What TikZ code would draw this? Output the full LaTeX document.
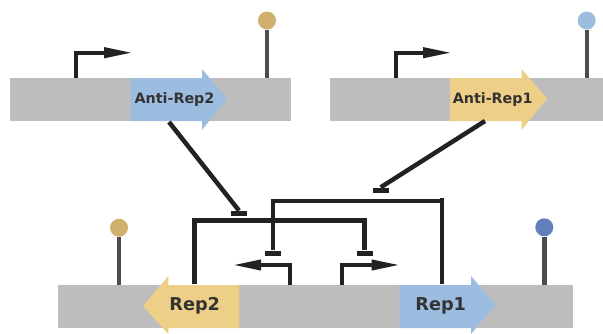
\documentclass[tikz,border=0pt]{standalone}
\usepackage{fontspec}
\setmainfont{DejaVu Sans}
\usetikzlibrary{arrows.meta}
\definecolor{barg}{HTML}{BDBDBD}
\definecolor{lblue}{HTML}{9DBDE0}
\definecolor{lyel}{HTML}{EDCF87}
\definecolor{ltan}{HTML}{CFB06F}
\definecolor{dblue}{HTML}{6180BB}
\definecolor{stemc}{HTML}{4D4D4D}
\definecolor{ink}{HTML}{222222}
\definecolor{txt}{HTML}{333333}
\tikzset{
  x=1pt,y=-1pt,
  barbox/.style={fill=barg,draw=none},
  stem/.style={draw=stemc,line width=4.4pt},
  capdot/.style={circle,draw=none,inner sep=0pt,minimum size=18pt},
  prom/.style={draw=ink,line width=3.9pt,line join=miter,-{Triangle[length=28.5pt,width=10pt]}},
  rep/.style={draw=ink,line width=4.5pt},
  tbar/.style={fill=ink,draw=none,inner sep=0pt,minimum width=16pt,minimum height=5pt},
  smalllabel/.style={font=\bfseries\fontsize{14.3}{16}\selectfont,text=txt,inner sep=0pt},
  biglabel/.style={font=\bfseries\fontsize{17.7}{20}\selectfont,text=txt,inner sep=0pt},
}
\begin{document}
\begin{tikzpicture}
\useasboundingbox (0,0) rectangle (603,333);
% DNA bars
\fill[barbox] (10,78) rectangle (291,121);
\fill[barbox] (330,78) rectangle (603,121);
\fill[barbox] (58,285) rectangle (573,328);
% genes
\fill[lblue] (130.5,78) -- (202,78) -- (202,69) -- (227,98.5) -- (202,130) -- (202,121) -- (130.5,121) -- cycle;
\fill[lyel] (450,78) -- (521.7,78) -- (521.7,69) -- (547,98.5) -- (521.7,130) -- (521.7,121) -- (450,121) -- cycle;
\fill[lyel] (239.3,285) -- (168.3,285) -- (168.3,276) -- (143,306) -- (168.3,334) -- (168.3,328) -- (239.3,328) -- cycle;
\fill[lblue] (399.3,285) -- (471,285) -- (471,276) -- (495.7,305) -- (471,334) -- (471,328) -- (399.3,328) -- cycle;
\node[smalllabel] (antirep2) at (174.5,100) {Anti-Rep2};
\node[smalllabel] (antirep1) at (492.7,100) {Anti-Rep1};
\node[biglabel] (rep2) at (194.7,305.5) {Rep2};
\node[biglabel] (rep1) at (440.7,305.5) {Rep1};
% terminators
\node[capdot,fill=ltan] (t1) at (267,20.5) {};
\node[capdot,fill=lblue] (t2) at (586.7,20.5) {};
\node[capdot,fill=ltan] (t3) at (119,227.7) {};
\node[capdot,fill=dblue] (t4) at (544.3,227.3) {};
\coordinate (t1b) at (267,78);
\coordinate (t2b) at (586.7,78);
\coordinate (t3b) at (119,285);
\coordinate (t4b) at (544.3,285);
\draw[stem] (t1) -- (t1b);
\draw[stem] (t2) -- (t2b);
\draw[stem] (t3) -- (t3b);
\draw[stem] (t4) -- (t4b);
% promoters
\coordinate (p1) at (76,77.5);
\coordinate (p1t) at (132.7,52.7);
\coordinate (p2) at (395.7,77.5);
\coordinate (p2t) at (451.7,52.7);
\coordinate (p3) at (290.3,285);
\coordinate (p3t) at (232.7,265);
\coordinate (p4) at (341.7,285);
\coordinate (p4t) at (400,265);
\draw[prom] (p1) |- (p1t);
\draw[prom] (p2) |- (p2t);
\draw[prom] (p3) |- (p3t);
\draw[prom] (p4) |- (p4t);
% repression
\node[tbar] (ta2) at (239,213.3) {};
\node[tbar] (ta1) at (380.7,190) {};
\node[tbar] (tp3) at (272.8,253) {};
\node[tbar] (tp4) at (364.7,253) {};
\coordinate (a2s) at (169,122);
\coordinate (a1s) at (485,121);
\coordinate (r2s) at (194.3,284);
\coordinate (r1s) at (442,284);
\coordinate (r1top) at (442,197.5);
\draw[rep] (a2s) -- (ta2.north);
\draw[rep] (a1s) -- (ta1.north);
\draw[rep,line join=miter] (r2s) |- (364.7,220.7) -- (tp4.north);
\draw[rep] (r1s) -- (r1top);
\draw[rep,line join=miter] (442,201) -| (tp3.north);
\end{tikzpicture}
\end{document}
